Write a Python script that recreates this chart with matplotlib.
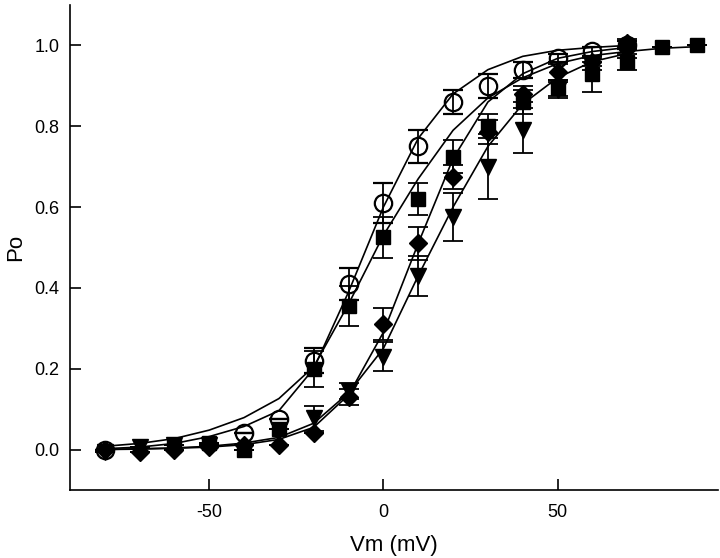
import numpy as np
import matplotlib.pyplot as plt

plt.rcParams['font.family'] = ['Liberation Sans', 'DejaVu Sans']
plt.rcParams['axes.unicode_minus'] = False

# ---- data ----
# open circles
vm_circ = [-80, -40, -30, -20, -10, 0, 10, 20, 30, 40, 50, 60, 70]
po_circ = [0.00, 0.04, 0.075, 0.22, 0.41, 0.61, 0.75, 0.86, 0.90, 0.94, 0.97, 0.985, 1.00]
er_circ = [0.0, 0.0, 0.0, 0.03, 0.04, 0.05, 0.04, 0.03, 0.03, 0.02, 0.01, 0.01, 0.01]

# filled squares
vm_sq = [-60, -50, -40, -30, -20, -10, 0, 10, 20, 30, 40, 50, 60, 70, 80, 90]
po_sq = [0.01, 0.015, 0.00, 0.05, 0.20, 0.355, 0.525, 0.62, 0.725, 0.80, 0.86, 0.895, 0.93, 0.96, 0.995, 1.00]
er_sq = [0.0, 0.0, 0.0, 0.0, 0.045, 0.05, 0.05, 0.04, 0.04, 0.03, 0.03, 0.02, 0.045, 0.02, 0.0, 0.0]

# filled diamonds
vm_dia = [-80, -70, -60, -50, -40, -30, -20, -10, 0, 10, 20, 30, 40, 50, 60, 70]
po_dia = [0.00, -0.005, 0.00, 0.005, 0.01, 0.01, 0.04, 0.13, 0.31, 0.51, 0.675, 0.785, 0.88, 0.935, 0.96, 1.005]
er_dia = [0.0, 0.0, 0.0, 0.0, 0.0, 0.0, 0.0, 0.02, 0.04, 0.04, 0.03, 0.03, 0.02, 0.02, 0.01, 0.01]

# filled down triangles
vm_tri = [-80, -70, -60, -50, -20, -10, 0, 10, 20, 30, 40, 50, 60, 70]
po_tri = [-0.005, 0.005, 0.01, 0.01, 0.077, 0.145, 0.23, 0.43, 0.575, 0.70, 0.79, 0.89, 0.95, 0.98]
er_tri = [0.0, 0.0, 0.0, 0.0, 0.03, 0.02, 0.035, 0.05, 0.06, 0.08, 0.055, 0.02, 0.01, 0.01]

# fitted curves (read at 10 mV steps)
fit_x = [-80, -70, -60, -50, -40, -30, -20, -10, 0, 10, 20, 30, 40, 50, 60, 70]
fit_circ = [0.002, 0.006, 0.015, 0.032, 0.057, 0.096, 0.20, 0.39, 0.60, 0.77, 0.88, 0.94, 0.973, 0.988, 0.995, 1.0]
fit_dia = [0.0, 0.001, 0.003, 0.006, 0.012, 0.025, 0.055, 0.135, 0.29, 0.51, 0.72, 0.86, 0.93, 0.968, 0.985, 0.995]
fit_tri = [0.0, 0.002, 0.004, 0.008, 0.016, 0.03, 0.065, 0.14, 0.25, 0.43, 0.60, 0.75, 0.855, 0.92, 0.96, 0.98]
fit_sq_x = [-80, -70, -60, -50, -40, -30, -20, -10, 0, 10, 20, 30, 40, 50, 60, 70, 80, 90]
fit_sq = [0.008, 0.015, 0.027, 0.048, 0.079, 0.126, 0.205, 0.36, 0.53, 0.67, 0.79, 0.87, 0.92, 0.955, 0.975, 0.985, 0.993, 0.997]

fig = plt.figure(figsize=(7.2, 5.58), dpi=100, facecolor='white')
ax = fig.add_axes([0.097, 0.122, 0.9, 0.869])

lw = 1.2
ax.plot(fit_x, fit_circ, color='black', lw=lw, zorder=1)
ax.plot(fit_sq_x, fit_sq, color='black', lw=lw, zorder=1)
ax.plot(fit_x, fit_dia, color='black', lw=lw, zorder=1)
ax.plot(fit_x, fit_tri, color='black', lw=lw, zorder=1)

# open circles sit underneath the filled symbols, as in the original
ebkw = dict(ecolor='black', elinewidth=1.3, capsize=7, capthick=1.3, linestyle='none')
ax.errorbar(vm_circ, po_circ, yerr=er_circ, marker='o', ms=12.5, mfc='none', mec='black', mew=1.6, zorder=2, **ebkw)
ax.errorbar(vm_tri, po_tri, yerr=er_tri, marker='v', ms=12, mfc='black', mec='black', zorder=3, **ebkw)
ax.errorbar(vm_dia, po_dia, yerr=er_dia, marker='D', ms=9, mfc='black', mec='black', zorder=3, **ebkw)
ax.errorbar(vm_sq, po_sq, yerr=er_sq, marker='s', ms=10.5, mfc='black', mec='black', zorder=3, **ebkw)

ax.set_xlim(-90, 96)
ax.set_ylim(-0.1, 1.1)
ax.set_xticks([-50, 0, 50])
ax.set_yticks(np.arange(0, 1.01, 0.2))
ax.set_yticklabels(['%.1f' % v for v in np.arange(0, 1.01, 0.2)])

ax.spines['top'].set_visible(False)
ax.spines['right'].set_visible(False)
for s in ('left', 'bottom'):
    ax.spines[s].set_linewidth(1.2)
ax.tick_params(direction='in', length=8, width=1.2, labelsize=13)
ax.tick_params(axis='x', pad=10)
ax.tick_params(axis='y', pad=7.5)

ax.set_xlabel('Vm (mV)', fontsize=16, labelpad=10)
ax.set_ylabel('Po', fontsize=16, labelpad=6)

plt.savefig('out.png', dpi=100)
